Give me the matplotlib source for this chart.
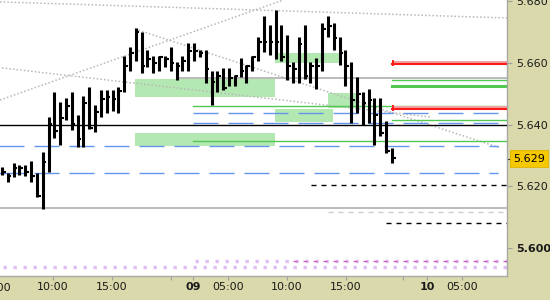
import matplotlib
matplotlib.use('Agg')
import matplotlib.pyplot as plt
import matplotlib.transforms as mtransforms
import numpy as np

# ---------------- data (30-minute bars, index based axis) ----------------
high = [5.6263, 5.6243, 5.6276, 5.6269, 5.6269, 5.6282, 5.6243, 5.6311, 5.6425, 5.6506,
        5.6474, 5.6487, 5.6506, 5.6431, 5.6493, 5.6522, 5.6464, 5.6512, 5.6512, 5.6512,
        5.6522, 5.6623, 5.6652, 5.6713, 5.6700, 5.6642, 5.6623, 5.6623, 5.6623, 5.6652,
        5.6603, 5.6623, 5.6665, 5.6665, 5.6642, 5.6642, 5.6574, 5.6574, 5.6584, 5.6584,
        5.6561, 5.6616, 5.6594, 5.6623, 5.6684, 5.6752, 5.6723, 5.6772, 5.6723, 5.6691,
        5.6603, 5.6684, 5.6723, 5.6603, 5.6616, 5.6730, 5.6752, 5.6730, 5.6684, 5.6642,
        5.6603, 5.6555, 5.6506, 5.6516, 5.6487, 5.6487, 5.6412, 5.6325]
low = [5.6237, 5.6214, 5.6230, 5.6237, 5.6234, 5.6214, 5.6166, 5.6127, 5.6247, 5.6357,
       5.6334, 5.6415, 5.6383, 5.6328, 5.6328, 5.6386, 5.6376, 5.6425, 5.6438, 5.6444,
       5.6438, 5.6506, 5.6574, 5.6606, 5.6568, 5.6587, 5.6568, 5.6574, 5.6587, 5.6574,
       5.6545, 5.6574, 5.6574, 5.6606, 5.6619, 5.6535, 5.6464, 5.6506, 5.6512, 5.6525,
       5.6525, 5.6555, 5.6535, 5.6574, 5.6606, 5.6636, 5.6626, 5.6613, 5.6606, 5.6545,
       5.6535, 5.6535, 5.6548, 5.6535, 5.6516, 5.6574, 5.6684, 5.6642, 5.6594, 5.6525,
       5.6406, 5.6438, 5.6399, 5.6406, 5.6334, 5.6363, 5.6308, 5.6276]
close = [5.6247, 5.6234, 5.6260, 5.6260, 5.6247, 5.6234, 5.6169, 5.6279, 5.6402, 5.6380,
         5.6422, 5.6461, 5.6402, 5.6354, 5.6470, 5.6389, 5.6441, 5.6483, 5.6490, 5.6483,
         5.6509, 5.6590, 5.6632, 5.6700, 5.6590, 5.6613, 5.6600, 5.6619, 5.6613, 5.6600,
         5.6590, 5.6606, 5.6639, 5.6639, 5.6632, 5.6581, 5.6538, 5.6558, 5.6519, 5.6551,
         5.6558, 5.6574, 5.6590, 5.6619, 5.6668, 5.6668, 5.6668, 5.6668, 5.6619, 5.6590,
         5.6581, 5.6662, 5.6558, 5.6590, 5.6590, 5.6710, 5.6720, 5.6681, 5.6632, 5.6590,
         5.6480, 5.6499, 5.6470, 5.6480, 5.6431, 5.6373, 5.6315, 5.6292]

last_price = 5.629

x_ticks = [8.76, 18.90, 29.04, 32.82, 38.83, 48.97, 59.11, 68.90, 73.02, 79.04]
x_labels = ['10:00', '15:00', '', '09', '05:00', '10:00', '15:00', '', '10', '05:00']
bold_x_labels = ['09', '10']
y_ticks = [5.600, 5.620, 5.640, 5.660, 5.680]

# level lines: (price, start index)
blue_levels = [(5.6331, -3.26), (5.6243, -3.26), (5.6438, 32.82), (5.6406, 32.82)]
green_levels = [(5.6461, 32.82, 1.0), (5.6347, 32.82, 1.0), (5.6545, 67.0, 1.0),
                (5.6525, 67.0, 2.2), (5.6415, 67.0, 1.0)]
red_levels = [5.6597, 5.6451]
red_start = 67.0
gray_levels = [(5.6551, 30.07), (5.6130, -0.34)]
black_level = 5.6400
black_dashed = [(5.6205, 53.1), (5.6081, 66.0)]
lightgray_dashed = [(5.6117, 56.0)]
pink_dashed = [(5.5958, 50.0)]
lavender_dotted = [(5.5939, 0.2), (5.5958, 33.2)]

# support / resistance zones: (x0, x1, y_low, y_high)
zones = [(22.85, 46.9, 5.6490, 5.6548),
         (22.85, 46.9, 5.6331, 5.6373),
         (46.9, 58.4, 5.6600, 5.6632),
         (46.9, 56.9, 5.6409, 5.6451),
         (56.0, 61.0, 5.6454, 5.6503)]

# dotted trend lines: ((x0, y0), (x1, y1))
trends = [((-0.34, 5.6798), (86.77, 5.6746)),
          ((-0.34, 5.6480), (48.3, 5.6804)),
          ((0.0, 5.6584), (73.5, 5.6425)),
          ((22.85, 5.6710), (85.6, 5.6325))]

# ---------------- styling ----------------
BEIGE = '#d9d9ab'
GRID_GRAY = '#a8a8a8'
XLIM = (-0.34, 86.77)
YLIM = (5.59095, 5.68042)
R_END = XLIM[1]

fig = plt.figure(figsize=(5.5, 3.0), dpi=100, facecolor=BEIGE)
ax = fig.add_axes([0, 0.08, 507 / 550, 0.92])
ax.set_facecolor('white')
ax.set_xlim(*XLIM)
ax.set_ylim(*YLIM)

# zones
for x0, x1, y0, y1 in zones:
    ax.fill_between([x0, x1], y0, y1, color='#b4e8b2', lw=0, zorder=1)

# lavender dotted rows
for y, xs in lavender_dotted:
    ax.plot([xs, R_END], [y, y], color='#e0bdf0', lw=2.4, linestyle=(0, (1, 2)),
            solid_capstyle='butt', dash_capstyle='butt', zorder=2)
for y, xs in pink_dashed:
    ax.plot([xs, R_END], [y, y], color='#d05ac0', lw=0.9, dashes=(3.2, 4.8), zorder=3)

# trend lines
for (x0, y0), (x1, y1) in trends:
    ax.plot([x0, x1], [y0, y1], color='#b8b8b8', lw=1.1, linestyle=(0, (1, 1.4)), zorder=2)

# gray solid
for y, xs in gray_levels:
    ax.plot([xs, R_END], [y, y], color=GRID_GRAY, lw=1.1, zorder=3)
ax.plot([XLIM[0], R_END], [black_level, black_level], color='black', lw=1.0, zorder=3)

# blue dashed
for y, xs in blue_levels:
    ax.plot([xs, 85.2], [y, y], color='#6495ed', lw=1.0, dashes=(18, 7.2), zorder=3)

# green lines
for y, xs, lw in green_levels:
    ax.plot([xs, R_END], [y, y], color='#52c852', lw=lw, zorder=3)

# red zones
for y in red_levels:
    ax.fill_between([red_start, R_END], y + 0.00045, y + 0.0011, color='#f0a0a0', lw=0, zorder=3)
    ax.plot([red_start, R_END], [y, y], color='#ff1a1a', lw=1.5, zorder=4)
    ax.plot([red_start + 0.1, red_start + 0.1], [y - 0.0002, y + 0.0011], color='#ff1a1a', lw=1.4, zorder=4)

# black / light gray dashed
for y, xs in black_dashed:
    ax.plot([xs, R_END], [y, y], color='black', lw=1.0, dashes=(3.6, 3.6), zorder=3)
for y, xs in lightgray_dashed:
    ax.plot([xs, R_END], [y, y], color='#cccccc', lw=1.0, dashes=(3.6, 3.6), zorder=3)

# bars
xi = np.arange(len(high))
ax.vlines(xi, low, high, color='black', lw=2.2, zorder=6)
ax.hlines(close, xi, xi + 0.62, color='black', lw=1.5, zorder=6)

# axes styling
for s in ['top', 'left']:
    ax.spines[s].set_visible(False)
for s in ['right', 'bottom']:
    ax.spines[s].set_color('#a8a8a8')
    ax.spines[s].set_linewidth(1.0)

ax.yaxis.tick_right()
ax.set_yticks(y_ticks)
ax.set_yticklabels(['%.3f' % v for v in y_ticks])
ax.tick_params(axis='y', length=3.5, width=0.8, color='#a0a0a0', labelsize=8,
               pad=3, labelcolor='#1a1a1a')
for lab in ax.get_yticklabels():
    if lab.get_text() == '5.600':
        lab.set_fontweight('bold')

ax.set_xticks(x_ticks)
ax.set_xticklabels(x_labels)
ax.tick_params(axis='x', length=3, width=0.8, color='#a0a0a0', labelsize=8, pad=1.5,
               labelcolor='#1a1a1a')
for lab in ax.get_xticklabels():
    if lab.get_text() in bold_x_labels:
        lab.set_fontweight('bold')

# partially visible label on the far left
ax.text(-1.2, YLIM[0], '05:00', transform=ax.transData, ha='center', va='top',
        fontsize=8, color='#1a1a1a', clip_on=False,
        bbox=None).set_y(YLIM[0] - 0.0023)

# last price box
trans = mtransforms.blended_transform_factory(ax.transAxes, ax.transData)
ax.text(1.012, last_price, '%.3f' % last_price, transform=trans, ha='left', va='center',
        fontsize=8, color='black', clip_on=False, zorder=10,
        bbox=dict(boxstyle='square,pad=0.3', facecolor='#f6c800', edgecolor='#e0b400', lw=0.6))
ax.plot([1.0, 1.012], [last_price, last_price], transform=trans, color='#333333', lw=0.8,
        clip_on=False)

fig.savefig('out.png', dpi=100, facecolor=BEIGE)
